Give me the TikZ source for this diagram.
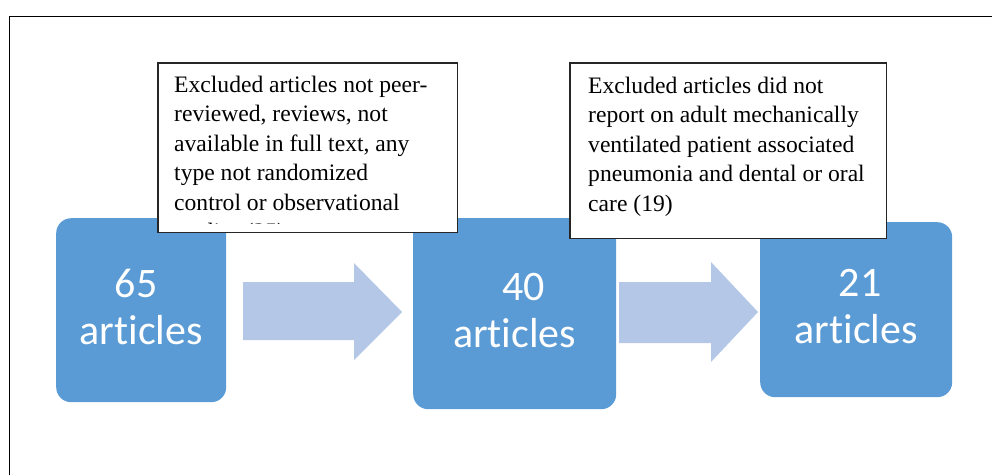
\documentclass[tikz,border=0pt]{standalone}
\usepackage{fontspec}
\setmainfont{Liberation Serif}
\newfontfamily\boxfont[Ligatures=NoCommon]{Carlito}
\definecolor{boxblue}{HTML}{5B9BD5}
\definecolor{arrowblue}{HTML}{B4C7E7}
\tikzset{
  countbox/.style={fill=boxblue, draw=none, rounded corners=15pt, inner sep=0pt, anchor=north west},
  counttext/.style={text=white, font=\boxfont\fontsize{42}{47}\selectfont, align=center, inner sep=0pt, yshift=3pt},
  excludebox/.style={fill=white, draw=none, inner sep=0pt, anchor=north west},
  excludeline/.style={draw=black!85, line width=1.2pt},
  excludetext/.style={font=\fontsize{23.6}{29.5}\selectfont, align=left, inner sep=0pt, anchor=north west},
  stagearrow/.style={fill=arrowblue, draw=none}
}
\begin{document}
\begin{tikzpicture}[x=1pt, y=-1pt]
\useasboundingbox (0,0) rectangle (992,475);
% frame
\draw[line width=1pt] (9.5,475) -- (9.5,16) -- (992,16);
% arrows between the stages
\fill[stagearrow] (243,282) -- (354,282) -- (354,263) -- (402,312) -- (354,360) -- (354,340) -- (243,340) -- cycle;
\fill[stagearrow] (619,282) -- (711,282) -- (711,262) -- (758,312) -- (711,362) -- (711,343) -- (619,343) -- cycle;
% stages
\node[countbox, minimum width=170pt, minimum height=184pt] (stage1) at (56,218) {};
\node[countbox, minimum width=203pt, minimum height=191pt] (stage2) at (413,218) {};
\node[countbox, minimum width=192pt, minimum height=175pt] (stage3) at (760,222) {};
\node[counttext] (count1) at (stage1.center) {65\hspace*{10pt}\\articles};
\node[counttext] (count2) at (stage2.center) {\hspace*{18pt}40\\articles};
\node[counttext] (count3) at (stage3.center) {\hspace*{8pt}21\\articles};
% exclusions
\node[excludebox, minimum width=299pt, minimum height=169pt] (excl1) at (158,63) {};
\begin{scope}
  \clip (excl1.north west) rectangle ([yshift=8.5pt]excl1.south east);
  \node[excludetext] (excltext1) at (174,75.8) {Excluded articles not peer-\\reviewed, reviews, not\\available in full text, any\\type not randomized\\control or observational\\studies (25)};
\end{scope}
\draw[excludeline] (excl1.north west) rectangle (excl1.south east);
\node[excludebox, minimum width=316pt, minimum height=175pt] (excl2) at (570,63) {};
\node[excludetext] (excltext2) at (588,76.8) {Excluded articles did not\\report on adult mechanically\\ventilated patient associated\\pneumonia and dental or oral\\care (19)};
\draw[excludeline] (excl2.north west) rectangle (excl2.south east);
\end{tikzpicture}
\end{document}
